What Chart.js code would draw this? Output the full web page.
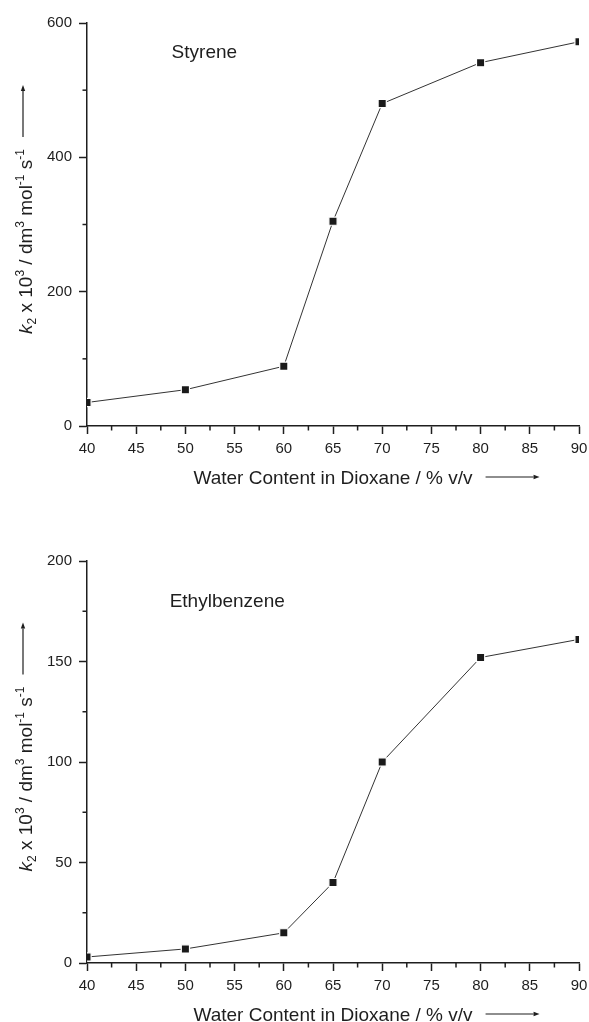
<!DOCTYPE html>
<html>
<head>
<meta charset="utf-8">
<title>k2 vs water content</title>
<script src="https://cdn.jsdelivr.net/npm/chart.js@4.4.1/dist/chart.umd.min.js"></script>
<style>
  html, body { margin: 0; padding: 0; background: #fff; }
  .panel { width: 589px; height: 511px; }
  canvas { display: block; }
</style>
</head>
<body>
<div class="panel"><canvas id="styreneChart" width="589" height="511"></canvas></div>
<div class="panel"><canvas id="ethylChart" width="589" height="511"></canvas></div>
<script>
// data
const waterContent = [40, 50, 60, 65, 70, 80, 90];
const styreneK2 = [35, 54, 89, 305, 480, 541, 572];
const ethylbenzeneK2 = [3, 7, 15, 40, 100, 152, 161];

const xTicks = [40, 45, 50, 55, 60, 65, 70, 75, 80, 85, 90];
const yTicksStyrene = [0, 200, 400, 600];
const yTicksEthyl = [0, 50, 100, 150, 200];

const xTitle = "Water Content in Dioxane / % v/v";
const yTitleParts = [
  { t: "k", italic: true },
  { t: "2", sub: true },
  { t: " x 10" },
  { t: "3", sup: true },
  { t: " / dm" },
  { t: "3", sup: true },
  { t: " mol" },
  { t: "-1", sup: true },
  { t: " s" },
  { t: "-1", sup: true }
];

const INK = "#1e1e1e";
const FONT = "'Liberation Sans', Arial, Helvetica, sans-serif";

Chart.defaults.font.family = FONT;
Chart.defaults.color = INK;

function drawArrow(ctx, x1, y1, x2, y2) {
  const ang = Math.atan2(y2 - y1, x2 - x1);
  const head = 6, half = 2.2;
  ctx.beginPath();
  ctx.moveTo(x1, y1);
  ctx.lineTo(x2 - head * Math.cos(ang), y2 - head * Math.sin(ang));
  ctx.stroke();
  ctx.beginPath();
  ctx.moveTo(x2, y2);
  ctx.lineTo(x2 - head * Math.cos(ang) + half * Math.sin(ang), y2 - head * Math.sin(ang) - half * Math.cos(ang));
  ctx.lineTo(x2 - head * Math.cos(ang) - half * Math.sin(ang), y2 - head * Math.sin(ang) + half * Math.cos(ang));
  ctx.closePath();
  ctx.fill();
}

// minor ticks, compound label, axis titles with arrows
const decorPlugin = {
  id: "decor",
  afterDraw(chart, args, opts) {
    const { ctx, chartArea: a, scales: { x, y } } = chart;
    ctx.save();
    ctx.strokeStyle = INK;
    ctx.fillStyle = INK;
    ctx.lineWidth = 1.5;

    // minor ticks halfway between the major ones
    for (let i = 0; i < xTicks.length - 1; i++) {
      const px = x.getPixelForValue((xTicks[i] + xTicks[i + 1]) / 2);
      ctx.beginPath();
      ctx.moveTo(px, a.bottom);
      ctx.lineTo(px, a.bottom + 4.5);
      ctx.stroke();
    }
    const yt = opts.yTicks;
    for (let i = 0; i < yt.length - 1; i++) {
      const py = y.getPixelForValue((yt[i] + yt[i + 1]) / 2);
      ctx.beginPath();
      ctx.moveTo(a.left, py);
      ctx.lineTo(a.left - 4.5, py);
      ctx.stroke();
    }

    // compound name
    ctx.font = "19px " + FONT;
    ctx.textAlign = "left";
    ctx.textBaseline = "alphabetic";
    ctx.fillText(opts.label, x.getPixelForValue(opts.labelAt[0]), y.getPixelForValue(opts.labelAt[1]));

    // x title + arrow
    const cx = (a.left + a.right) / 2;
    const by = a.bottom + 58;
    ctx.textAlign = "center";
    ctx.fillText(xTitle, cx, by);
    const tw = ctx.measureText(xTitle).width;
    ctx.lineWidth = 1.2;
    drawArrow(ctx, cx + tw / 2 + 13, by - 7, cx + tw / 2 + 67, by - 7);

    // y title (rotated) + arrow
    const fontFor = p => (p.sup || p.sub ? "12px " : p.italic ? "italic 19px " : "19px ") + FONT;
    let w = 0;
    yTitleParts.forEach(p => { ctx.font = fontFor(p); w += ctx.measureText(p.t).width; });
    const cy = (a.top + a.bottom) / 2;
    ctx.translate(32, cy + 17 + w / 2);
    ctx.rotate(-Math.PI / 2);
    ctx.textAlign = "left";
    let cur = 0;
    yTitleParts.forEach(p => {
      ctx.font = fontFor(p);
      const dy = p.sup ? -8.5 : p.sub ? 4 : 0;
      ctx.fillText(p.t, cur, dy);
      cur += ctx.measureText(p.t).width;
    });
    drawArrow(ctx, w + 12, -9, w + 64, -9);

    ctx.restore();
  }
};

function makeChart(id, values, yTicks, padTop, xHeight, label, labelAt) {
  const ctx = document.getElementById(id).getContext("2d");
  return new Chart(ctx, {
    type: "line",
    data: {
      datasets: [{
        data: waterContent.map((w, i) => ({ x: w, y: values[i] })),
        borderColor: "#333",
        borderWidth: 1,
        tension: 0,
        pointStyle: "rect",
        pointRadius: 5.8,
        pointBackgroundColor: "#1a1a1a",
        pointBorderColor: "#fff",
        pointBorderWidth: 1.2
      }]
    },
    options: {
      responsive: false,
      animation: false,
      events: [],
      layout: { padding: { top: padTop, right: 10, left: 0, bottom: 0 } },
      plugins: {
        legend: { display: false },
        tooltip: { enabled: false },
        decor: { yTicks, label, labelAt }
      },
      scales: {
        x: {
          type: "linear",
          min: xTicks[0],
          max: xTicks[xTicks.length - 1],
          afterBuildTicks: s => { s.ticks = xTicks.map(v => ({ value: v })); },
          afterFit: s => { s.height = xHeight; s.paddingLeft = 0; s.paddingRight = 0; },
          grid: { drawOnChartArea: false, tickLength: 8, tickWidth: 1.5, tickColor: INK },
          border: { color: INK, width: 1.5 },
          ticks: { padding: 6, maxRotation: 0, font: { size: 15 }, color: INK }
        },
        y: {
          type: "linear",
          min: yTicks[0],
          max: yTicks[yTicks.length - 1],
          afterBuildTicks: s => { s.ticks = yTicks.map(v => ({ value: v })); },
          afterFit: s => { s.width = 87; s.paddingTop = 0; s.paddingBottom = 0; },
          grid: { drawOnChartArea: false, tickLength: 8, tickWidth: 1.5, tickColor: INK },
          border: { color: INK, width: 1.5 },
          ticks: { padding: 7, font: { size: 15 }, color: INK }
        }
      }
    },
    plugins: [decorPlugin]
  });
}

document.addEventListener("DOMContentLoaded", () => {
  makeChart("styreneChart", styreneK2, yTicksStyrene, 23, 85, "Styrene", [48.6, 548]);
  makeChart("ethylChart", ethylbenzeneK2, yTicksEthyl, 50, 59, "Ethylbenzene", [48.4, 177]);
});
</script>
</body>
</html>
